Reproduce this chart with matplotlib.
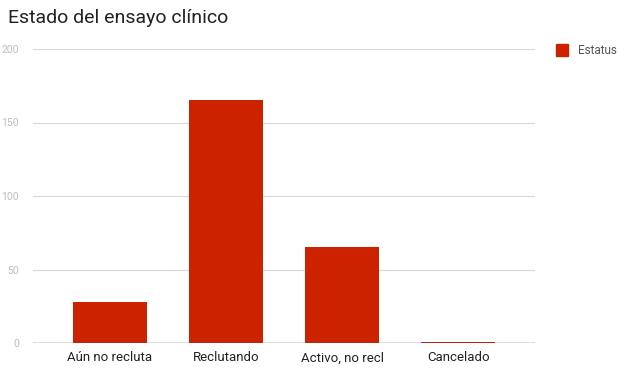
import matplotlib
matplotlib.use("Agg")
import matplotlib.pyplot as plt

categories = ["Aún no recluta", "Reclutando", "Activo, no recl", "Cancelado"]
values = [28, 165, 65, 1]
series_name = "Estatus"
y_ticks = [0, 50, 100, 150, 200]

plt.rcParams['font.family'] = ['Roboto', 'DejaVu Sans']

fig = plt.figure(figsize=(6.18, 3.70), dpi=100)
ax = fig.add_axes([33 / 618, 1 - 343 / 370, (535 - 33) / 618, (343 - 49) / 370])

bar_color = "#cc2200"
x = list(range(len(categories)))
ax.bar(x, values, width=0.64, color=bar_color, zorder=3, label=series_name)

ax.set_xlim(-0.66, len(categories) - 1 + 0.66)
ax.set_ylim(0, 200)
ax.set_yticks(y_ticks)
ax.set_yticklabels([str(t) for t in y_ticks], color="#bdbdbd", fontsize=7.5)
ax.set_xticks(x)
ax.set_xticklabels(categories, color="#222222", fontsize=9.5)
ax.tick_params(axis="both", length=0)
ax.tick_params(axis="y", pad=10)
ax.tick_params(axis="x", pad=6)

for t in y_ticks[1:]:
    ax.axhline(t, color="#d9d9d9", linewidth=0.9, zorder=1)
ax.axhline(0, color="#555555", linewidth=1.0, zorder=4)

for s in ax.spines.values():
    s.set_visible(False)

fig.text(8 / 618, 1 - 18 / 370, "Estado del ensayo clínico", fontsize=14,
         color="#222222", va="center", ha="left")

# legend
fig.patches.append(plt.Rectangle((556 / 618, 1 - 56 / 370), 12 / 618, 12 / 370,
                                 transform=fig.transFigure, color=bar_color))
fig.text(578 / 618, 1 - 50 / 370, series_name, fontsize=8.5, color="#555555",
         va="center", ha="left")

fig.savefig("out.png", dpi=100)
